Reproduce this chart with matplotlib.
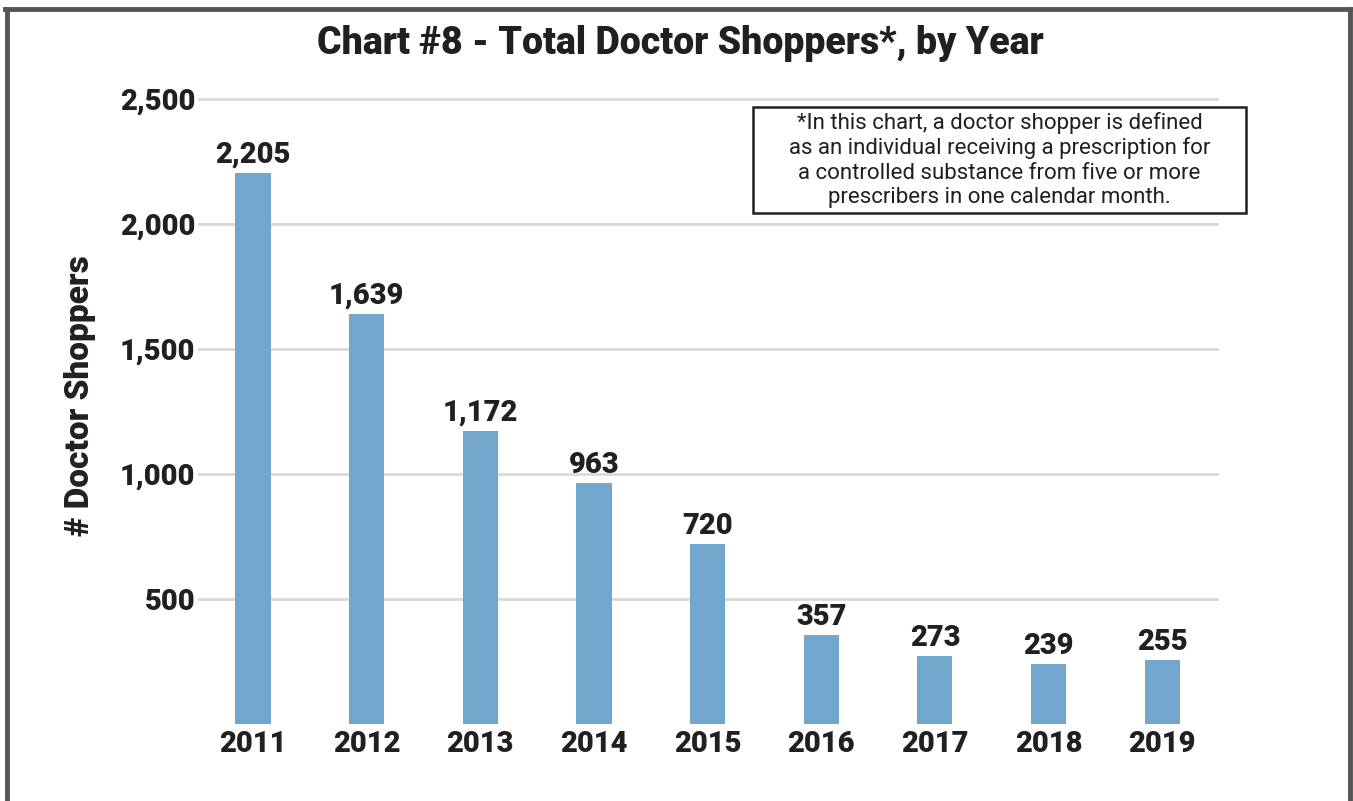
"""Chart #8 - total doctor shoppers by year, bar chart."""

import matplotlib
matplotlib.use('Agg')
import matplotlib.pyplot as plt
from matplotlib import patches
from matplotlib.lines import Line2D
from matplotlib.ticker import FuncFormatter

YEARS = ['2011', '2012', '2013', '2014', '2015', '2016', '2017', '2018', '2019']
SHOPPERS = [2205, 1639, 1172, 963, 720, 357, 273, 239, 255]
Y_TICKS = [500, 1000, 1500, 2000, 2500]

TITLE = 'Chart #8 - Total Doctor Shoppers*, by Year'
Y_LABEL = '# Doctor Shoppers'
NOTE = ('*In this chart, a doctor shopper is defined\n'
        'as an individual receiving a prescription for\n'
        'a controlled substance from five or more\n'
        'prescribers in one calendar month.')

INK = '#231f20'
BAR_COLOR = '#72a6cd'
GRID_COLOR = '#d9d9d9'
FRAME_COLOR = '#555555'
HEAVY = 'heavy'

W, H = 1353, 801

plt.rcParams['font.family'] = ['Roboto', 'DejaVu Sans']


def fx(px):
    """Pixel x to figure fraction."""
    return px / W


def fy(py):
    """Pixel y (from top) to figure fraction."""
    return (H - py) / H


fig = plt.figure(figsize=(W / 100, H / 100), dpi=100)
fig.patch.set_facecolor('white')

# axes: y=0 at 724px, 2500 at 99px, gridlines from x=198 to 1219
ax = fig.add_axes([fx(198), fy(724), fx(1219) - fx(198), fy(90) - fy(724)])
ax.set_ylim(0, 2500 * (724 - 90) / (724 - 99))
ax.set_xlim(-0.484, 8.5)

x = list(range(len(YEARS)))
ax.bar(x, SHOPPERS, width=0.31, color=BAR_COLOR, zorder=3)

for xi, val in zip(x, SHOPPERS):
    ax.annotate(f'{val:,}', (xi, val), xytext=(0, 3), textcoords='offset points',
                ha='center', va='bottom', fontsize=21, fontweight=HEAVY,
                color=INK)

ax.set_yticks(Y_TICKS)
ax.yaxis.set_major_formatter(FuncFormatter(lambda v, _: f'{int(v):,}'))
ax.set_xticks(x)
ax.set_xticklabels(YEARS)
ax.tick_params(axis='both', length=0, labelsize=21, colors=INK)
ax.tick_params(axis='y', pad=2)
ax.tick_params(axis='x', pad=4)
for lbl in ax.get_xticklabels() + ax.get_yticklabels():
    lbl.set_fontweight(HEAVY)

ax.grid(axis='y', color=GRID_COLOR, linewidth=2, zorder=0)
ax.set_axisbelow(True)
for spine in ax.spines.values():
    spine.set_visible(False)

fig.text(fx(680), fy(43), TITLE, ha='center', va='center', fontsize=27,
         fontweight=HEAVY, color=INK)
fig.text(fx(80), fy(396), Y_LABEL, ha='center', va='center', rotation=90,
         fontsize=24, fontweight=HEAVY, color=INK)

# footnote box
fig.patches.append(patches.Rectangle(
    (fx(753), fy(213)), fx(1246) - fx(753), fy(107) - fy(213),
    transform=fig.transFigure, fill=False, edgecolor=INK, linewidth=1.8))
fig.text(fx(999.5), fy(160), NOTE, ha='center', va='center',
         multialignment='center', fontsize=16, linespacing=1.22, color=INK)

# frame around the page (open at the bottom)
frame_kw = dict(transform=fig.transFigure, color=FRAME_COLOR, linewidth=3.5)
fig.lines.append(Line2D([fx(7), fx(7)], [0, fy(8.5)], **frame_kw))
fig.lines.append(Line2D([fx(5), fx(1351)], [fy(8.5), fy(8.5)], **frame_kw))
fig.lines.append(Line2D([fx(1350), fx(1350)], [0, fy(8.5)], **frame_kw))

fig.savefig('out.png', dpi=100)
